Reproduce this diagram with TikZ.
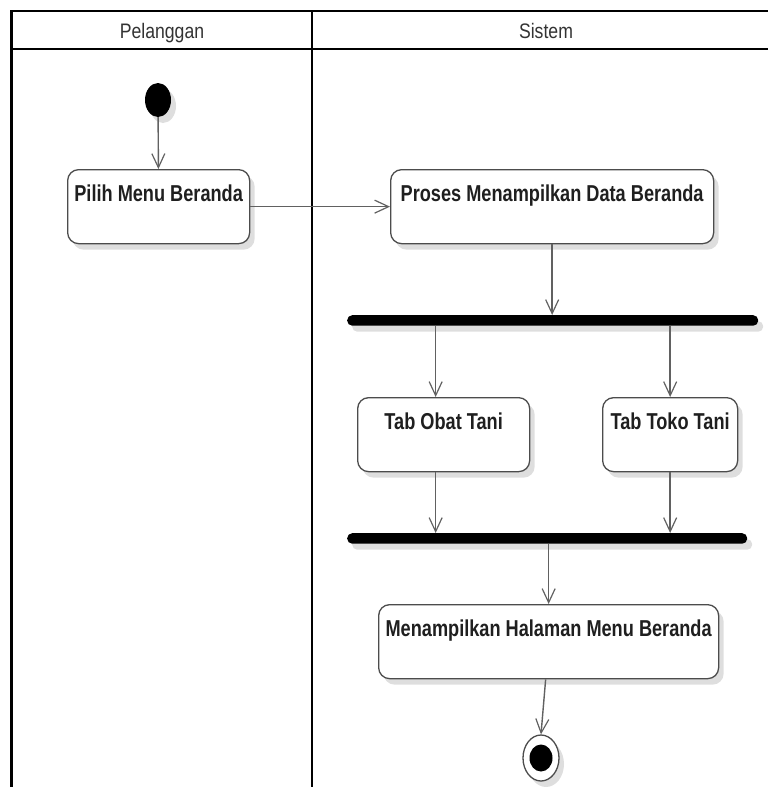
\documentclass[tikz,border=0pt]{standalone}
\usepackage{fontspec}
\newfontfamily\narrowsans{Liberation Sans}[FakeStretch=0.79]
\newfontfamily\headsans{Liberation Sans}[FakeStretch=0.84]
\usetikzlibrary{arrows.meta,shapes.geometric,shadows}
\begin{document}
\begin{tikzpicture}[x=1pt,y=-1pt,
  lane/.style={line width=2.6pt,black},
  lanetitle/.style={anchor=base,inner sep=0pt,text=black!80,font=\headsans\fontsize{21}{21}\selectfont},
  shade/.style={drop shadow={shadow xshift=5pt,shadow yshift=-6pt,fill=black!13,opacity=1}},
  action/.style={draw=black!70,line width=1.3pt,rounded corners=11pt,fill=white,shade,
    anchor=north west,inner xsep=0pt,inner ysep=0pt,text height=32pt,text depth=42pt,
    text=black!88,font=\narrowsans\bfseries\fontsize{23}{23}\selectfont},
  bar/.style={fill=black,rounded corners=5pt,inner sep=0pt,minimum height=10.5pt,anchor=north west,shade},
  flow/.style={draw=black!62,line width=1.4pt,-{Straight Barb[length=14pt,width=13pt,line width=1.2pt]}},
  startdot/.style={ellipse,fill=black,inner sep=0pt,minimum width=26pt,minimum height=34pt,shade},
]
\useasboundingbox (0,0) rectangle (768,787);

% swimlane frame
\draw[lane] (11.5,787) -- (11.5,11) -- (780,11);
\draw[lane] (11.5,49) -- (780,49);
\draw[lane] (312,11) -- (312,787);
\node[lanetitle] (tcust) at (162,38) {Pelanggan};
\node[lanetitle] (tsys) at (546,38) {Sistem};

% nodes
\node[startdot] (start) at (158,100) {};
\node[action,minimum width=182pt] (pilih) at (67,169) {Pilih Menu Beranda};
\node[action,minimum width=323pt] (proses) at (390,169) {Proses Menampilkan Data Beranda};
\node[bar,minimum width=411pt] (fork) at (347,315) {};
\node[action,minimum width=172pt] (obat) at (357,397) {Tab Obat Tani};
\node[action,minimum width=135pt] (toko) at (602,397) {Tab Toko Tani};
\node[bar,minimum width=400pt] (join) at (347,533) {};
\node[action,minimum width=340pt] (menu) at (378,604) {Menampilkan Halaman Menu Beranda};
\node[ellipse,draw=black!70,line width=1.3pt,fill=white,inner sep=0pt,
      minimum width=36pt,minimum height=46pt,shade] (final) at (541,758) {};
\node[ellipse,fill=black,inner sep=0pt,minimum width=23pt,minimum height=27pt] (finaldot) at (final.center) {};

% connectors
\draw[flow] (start) -- (pilih);
\draw[flow] (pilih.east) -- (proses.west);
\draw[flow] (proses.south) -- (proses.south |- fork.north);
\draw[flow] ([xshift=-8pt]obat.north |- fork.south) -- ([xshift=-8pt]obat.north);
\draw[flow] (toko.north |- fork.south) -- (toko.north);
\draw[flow] ([xshift=-8pt]obat.south) -- ([xshift=-8pt]obat.south |- join.north);
\draw[flow] (toko.south) -- (toko.south |- join.north);
\draw[flow] (menu.north |- join.south) -- (menu.north);
\draw[flow] ([xshift=-3pt]menu.south) -- (final.north);
\end{tikzpicture}
\end{document}
